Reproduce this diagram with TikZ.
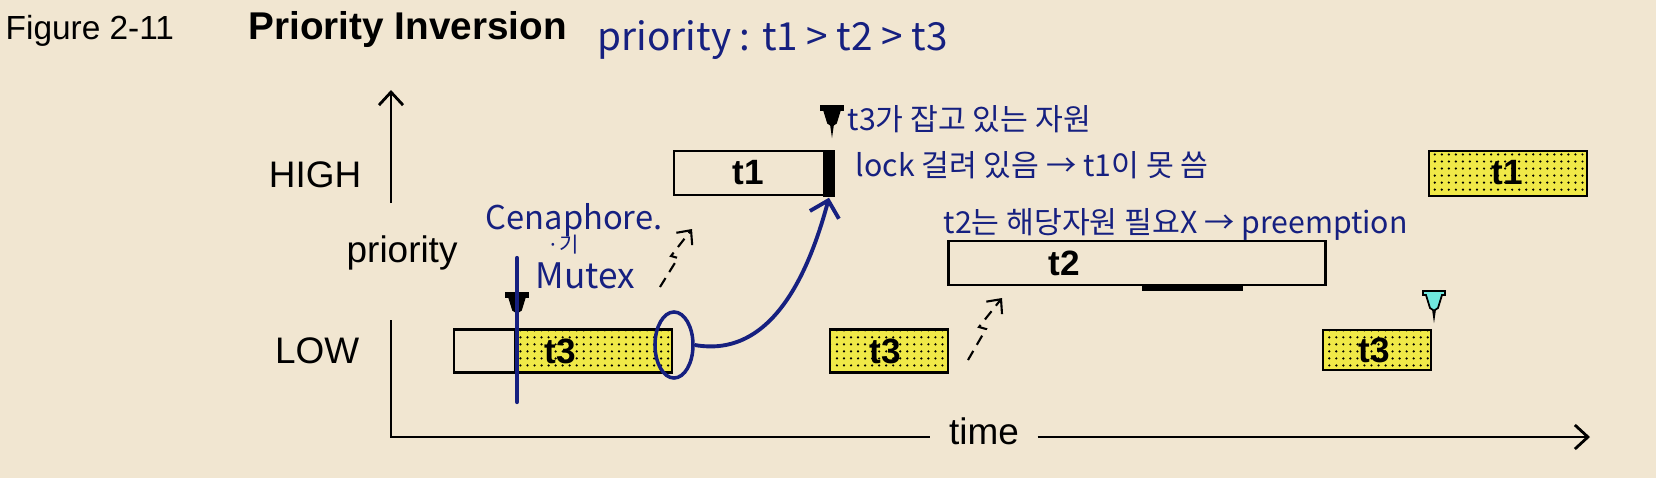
\documentclass[tikz,border=0pt]{standalone}
\usepackage{fontspec}
\setmainfont{Liberation Sans}
\newfontfamily\handfont{Noto Sans CJK KR}
\usetikzlibrary{arrows.meta,patterns,shapes.geometric}
\definecolor{paper}{RGB}{241,230,209}
\definecolor{runyellow}{RGB}{240,233,72}
\definecolor{penblue}{RGB}{22,32,128}
\definecolor{waitcyan}{RGB}{112,232,222}
\pgfdeclarepatternformonly{rundots}{\pgfqpoint{-1pt}{-1pt}}{\pgfqpoint{1pt}{1pt}}{\pgfqpoint{2pt}{2pt}}{%
  \pgfpathcircle{\pgfqpoint{0pt}{0pt}}{0.35pt}\pgfusepath{fill}}

\begin{document}
\begin{tikzpicture}[x=0.01cm, y=-0.01cm, >={Straight Barb[length=1.3mm,width=2.4mm]}]
    \tikzset{task/.style={draw, line width=0.8pt, minimum height=0.43cm, inner sep=0pt},
        running/.style={task, fill=runyellow, postaction={pattern=rundots}},
        tasklabel/.style={font=\bfseries\fontsize{10}{12}\selectfont},
        axislabel/.style={inner sep=0pt, font=\fontsize{10.5}{12}\selectfont},
        hand/.style={text=penblue, inner sep=0pt, anchor=base west, font=\handfont\fontsize{8.6}{10}\selectfont},
        preempt/.style={->, densely dashed, line width=0.6pt, >={Straight Barb[length=1.1mm,width=2mm]}},
        pics/lockmark/.style={code={\draw[line width=0.5pt, fill=#1] (-11,0) -- (11,0) -- (11,4) -- (8,4) -- (4,17) -- (1,19) -- (0,26) -- (-1,19) -- (-4,17) -- (-8,4) -- (-11,4) -- cycle;}}}
    \fill[paper] (0,0) rectangle (1656,478);
    \node[anchor=base west, inner sep=0pt, font=\fontsize{9.5}{11}\selectfont] (fignum) at (5,39) {Figure 2-11};
    \node[anchor=base west, inner sep=0pt, font=\bfseries\fontsize{11}{13}\selectfont] (figtitle) at (248,39) {Priority Inversion};
    \node[hand, font=\handfont\fontsize{11}{13}\selectfont] (prionote) at (597,50) {priority : t1 > t2 > t3};
    \node[axislabel, anchor=base east] (high) at (362,187) {HIGH};
    \node[axislabel, anchor=base east] (low) at (360,363) {LOW};
    \node[axislabel, anchor=base west] (prio) at (346,262) {priority};
    \node[axislabel, inner xsep=0.18cm] (timelbl) at (984,431) {time};
    \coordinate (origin) at (391,437);
    \coordinate (ytop) at (391,90);
    \coordinate (ymid) at (391,203);
    \coordinate (ylow) at (391,320);
    \coordinate (xend) at (1590,437);
    \draw[->, line width=0.8pt] (ymid) -- (ytop);
    \draw[line width=0.8pt] (ylow) -- (origin) -- (timelbl.west |- origin);
    \draw[->, line width=0.8pt] (timelbl.east |- origin) -- (xend);
    \node[task, minimum width=2.18cm] (t3a) at (563,351) {};
    \node[running, minimum width=1.57cm] (t3arun) at (593.5,351) {};
    \node[task, minimum width=1.59cm, minimum height=0.44cm] (t1a) at (753.5,173) {};
    \node[fill=black, minimum width=0.12cm, minimum height=0.47cm, inner sep=0pt] (t1bar) at (829,173.5) {};
    \node[running, minimum width=1.18cm] (t3b) at (889,351) {};
    \node[task, minimum width=3.76cm, minimum height=0.44cm] (t2) at (1137,263) {};
    \draw[line width=1.5pt] ([xshift=0.05cm, yshift=-0.015cm]t2.south) -- ([xshift=1.06cm, yshift=-0.015cm]t2.south);
    \node[running, minimum width=1.58cm, minimum height=0.45cm] (t1b) at (1508,173.5) {};
    \node[running, minimum width=1.08cm, minimum height=0.40cm] (t3c) at (1377,350) {};
    \node[tasklabel] (t3alabel) at (560,351) {t3};
    \node[tasklabel] (t1alabel) at (748,173) {t1};
    \node[tasklabel] (t3blabel) at (885,351) {t3};
    \node[tasklabel] (t2label) at (1064,263) {t2};
    \node[tasklabel] (t1blabel) at (1507,173) {t1};
    \node[tasklabel] (t3clabel) at (1374,350) {t3};
    \pic at (517,293) {lockmark=black};
    \pic at (832,106) {lockmark=black};
    \pic at (1434,291) {lockmark=waitcyan};
    \draw[preempt] (660,287) -- ++(18,-29) -- ++(-7,-2) -- ++(21,-27);
    \draw[preempt] (968,360) -- ++(18,-31) -- ++(-7,-2) -- ++(23,-29);
    \coordinate (semtop) at (517,258);
    \coordinate (sembot) at (517,402);
    \draw[penblue, line width=1.2pt, line cap=round] (semtop) -- (sembot);
    \node[ellipse, draw=penblue, line width=1pt, minimum width=0.38cm, minimum height=0.66cm, inner sep=0pt] (lockring) at (674,345) {};
    \draw[penblue, line width=1.1pt, -{Straight Barb[length=1.5mm,width=3mm]}] (lockring.east) to[out=-10, in=-105] (t1bar.south);
    \node[hand] (heldnote) at (847,130) {t3가 잡고 있는 자원};
    \node[hand] (locknote) at (855,176) {lock 걸려 있음 → t1이 못 씀};
    \node[hand] (t2note) at (943,233) {t2는 해당자원 필요X → preemption};
    \node[hand, font=\handfont\fontsize{9.3}{11}\selectfont] (semnote) at (485,229) {Cenaphore.};
    \node[hand, font=\handfont\fontsize{6}{7}\selectfont] (ornote) at (547,252) {·기};
    \node[hand, font=\handfont\fontsize{10}{12}\selectfont] (mutexnote) at (535,288) {Mutex};
\end{tikzpicture}
\end{document}
